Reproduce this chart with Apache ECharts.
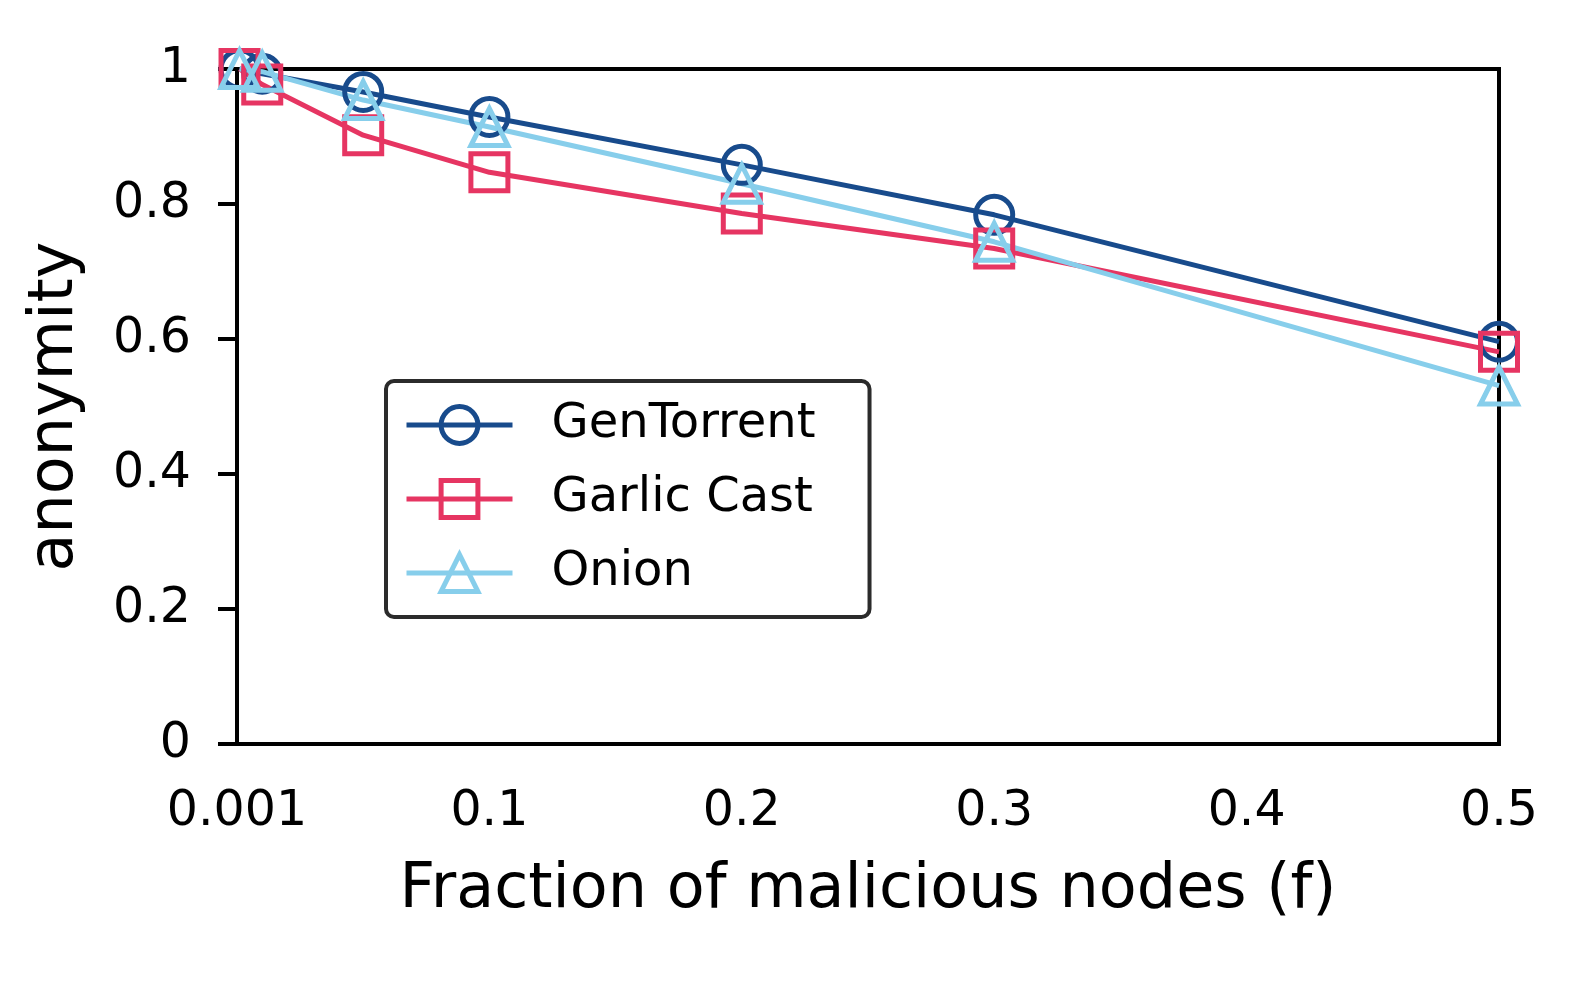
<!DOCTYPE html>
<html lang="en">
<head>
    <meta charset="UTF-8">
    <title>anonymity vs fraction of malicious nodes</title>
    <style>
        html, body { margin: 0; padding: 0; background: #fff; }
        #main { width: 1578px; height: 992px; }
    </style>
</head>
<body>
    <div id="main"></div>
</body>
<script src="https://cdn.jsdelivr.net/npm/echarts@6/dist/echarts.min.js"></script>
<script>
    // fraction of malicious nodes (x), first point shown as 0.001 on the axis
    var fractions = [0.001, 0.01, 0.05, 0.1, 0.2, 0.3, 0.5];
    var genTorrent = [1.0, 0.993, 0.966, 0.929, 0.858, 0.784, 0.596];
    var garlicCast = [1.0, 0.977, 0.902, 0.847, 0.786, 0.734, 0.581];
    var onion = [1.0, 0.996, 0.954, 0.914, 0.830, 0.744, 0.531];
    var yTicks = [0, 0.2, 0.4, 0.6, 0.8, 1];

    var font = 'DejaVu Sans';
    var lw = 5;

    function pairs(vals) {
        return fractions.map(function (f, i) { return [f, vals[i]]; });
    }

    // hollow markers: transparent fill so the line shows through, like matplotlib
    function makeSeries(name, vals, color, symbol) {
        return {
            name: name,
            type: 'line',
            data: pairs(vals),
            symbol: symbol,
            symbolSize: 37,
            clip: false,
            lineStyle: { color: color, width: lw },
            itemStyle: { color: 'rgba(0,0,0,0)', borderColor: color, borderWidth: lw },
            emphasis: { disabled: true },
            animation: false
        };
    }

    var gl = 237, gr = 79, gt = 69, gb = 248;

    var myChart = echarts.init(document.getElementById('main'));
    var option = {
        backgroundColor: '#fff',
        animation: false,
        grid: { left: gl, right: gr, top: gt, bottom: gb, containLabel: false, outerBoundsMode: 'none' },
        xAxis: {
            type: 'value',
            min: 0,
            max: 0.5,
            interval: 0.1,
            name: 'Fraction of malicious nodes (f)',
            nameLocation: 'middle',
            nameGap: 116,
            nameTextStyle: { fontFamily: font, fontSize: 62, color: '#000' },
            axisLine: { show: true, lineStyle: { color: '#000', width: 4 } },
            axisTick: { show: false },
            splitLine: { show: false },
            axisLabel: {
                margin: 44,
                fontFamily: font, fontSize: 49, color: '#000',
                formatter: function (v) { return v === 0 ? '0.001' : String(+v.toFixed(1)); }
            }
        },
        yAxis: {
            type: 'value',
            min: 0,
            max: 1,
            interval: 0.2,
            name: 'anonymity',
            nameLocation: 'middle',
            nameGap: 150,
            nameTextStyle: { fontFamily: font, fontSize: 62, color: '#000' },
            axisLine: { show: true, lineStyle: { color: '#000', width: 4 } },
            axisTick: { show: true, inside: false, length: 19, lineStyle: { color: '#000', width: 4 } },
            splitLine: { show: false },
            axisLabel: {
                margin: 46,
                fontFamily: font, fontSize: 49, color: '#000',
                formatter: function (v) {
                    var hit = yTicks.filter(function (t) { return Math.abs(t - v) < 1e-9; });
                    return hit.length ? String(hit[0]) : '';
                }
            }
        },
        legend: {
            left: 386,
            top: 381,
            orient: 'vertical',
            backgroundColor: '#fff',
            borderColor: '#2b2b2b',
            borderWidth: 4,
            borderRadius: 8,
            padding: [20, 54, 20, 18],
            itemWidth: 106,
            itemHeight: 46,
            itemGap: 26,
            itemStyle: { borderWidth: lw },
            lineStyle: { width: lw },
            textStyle: { fontFamily: font, fontSize: 48, color: '#000', padding: [0, 0, 0, 34] },
            data: ['GenTorrent', 'Garlic Cast', 'Onion']
        },
        series: [
            makeSeries('GenTorrent', genTorrent, '#184b8c', 'circle'),
            makeSeries('Garlic Cast', garlicCast, '#e63562', 'rect'),
            makeSeries('Onion', onion, '#87ceeb', 'triangle')
        ],
        // top and right spines
        graphic: [{
            type: 'rect',
            shape: { x: gl, y: gt, width: 1578 - gr - gl, height: 992 - gb - gt },
            style: { fill: 'none', stroke: '#000', lineWidth: 4 },
            z: 0,
            silent: true
        }]
    };
    myChart.setOption(option);
</script>
</html>
